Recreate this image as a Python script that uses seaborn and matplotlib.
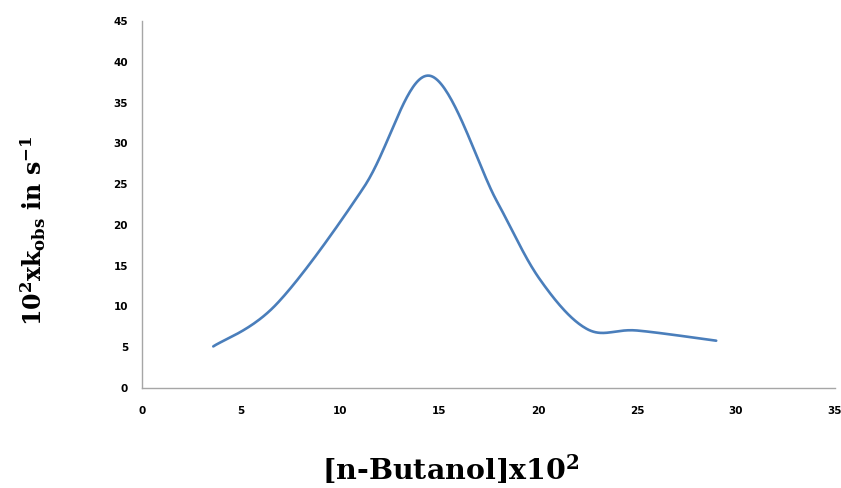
import numpy as np
import pandas as pd
import matplotlib
matplotlib.use("Agg")
import matplotlib.pyplot as plt
import seaborn as sns

# Data
butanol = [3.6, 6.8, 11.2, 14.5, 17.9, 20.1, 22.5, 25.0, 29.0]
kobs = [5.1, 10.3, 24.6, 38.3, 23.0, 13.3, 7.2, 7.05, 5.8]
x_ticks = [0, 5, 10, 15, 20, 25, 30, 35]
y_ticks = [0, 5, 10, 15, 20, 25, 30, 35, 40, 45]


def excel_smooth(xs, ys, n=40):
    """Excel-style smoothed line (Catmull-Rom Bezier) through the data points."""
    P = np.column_stack([xs, ys]).astype(float)
    out = []
    for i in range(len(P) - 1):
        p0 = P[i]
        p3 = P[i + 1]
        prev = P[i - 1] if i > 0 else P[i]
        nxt = P[i + 2] if i + 2 < len(P) else P[i + 1]
        c1 = p0 + (p3 - prev) / 6.0
        c2 = p3 - (nxt - p0) / 6.0
        t = np.linspace(0, 1, n, endpoint=(i == len(P) - 2))[:, None]
        seg = ((1 - t) ** 3) * p0 + 3 * ((1 - t) ** 2) * t * c1 + 3 * (1 - t) * t ** 2 * c2 + t ** 3 * p3
        out.append(seg)
    return np.vstack(out)


curve = excel_smooth(butanol, kobs)
df = pd.DataFrame({"x": curve[:, 0], "y": curve[:, 1]})

sns.set_theme(style="white")
plt.rcParams["font.family"] = ["DejaVu Sans"]
plt.rcParams["mathtext.default"] = "regular"
plt.rcParams["text.color"] = "black"

fig = plt.figure(figsize=(8.41, 4.88), dpi=100)
ax = fig.add_axes([142 / 841, 1 - 388 / 488, (835 - 142) / 841, (388 - 21) / 488])

sns.lineplot(data=df, x="x", y="y", sort=False, ax=ax, color="#4A7EBB", linewidth=1.9)

ax.set_xlim(0, 35)
ax.set_ylim(0, 45)
ax.set_xticks(x_ticks)
ax.set_yticks(y_ticks)
ax.set_xticklabels([str(v) for v in x_ticks], fontsize=7.5, fontweight="bold")
ax.set_yticklabels([str(v) for v in y_ticks], fontsize=7.5, fontweight="bold")

for s in ["top", "right"]:
    ax.spines[s].set_visible(False)
for s in ["left", "bottom"]:
    ax.spines[s].set_color("#A6A6A6")
    ax.spines[s].set_linewidth(1.0)
ax.tick_params(axis="both", which="major", direction="out", length=4, width=1.0,
               color="#A6A6A6", labelcolor="black")
ax.tick_params(axis="y", pad=6)
ax.tick_params(axis="x", pad=9)

ax.set_xlabel("")
ax.set_ylabel("")

fig.text(451 / 841, 1 - 469 / 488, r"[n-Butanol]x10$^{2}$", ha="center", va="center",
         fontsize=20.5, fontweight="bold", family="DejaVu Serif", color="black")
fig.text(33 / 841, 1 - 231 / 488, r"10$^{2}$xk$_{obs}$ in s$^{-1}$", ha="center", va="center",
         rotation=90, fontsize=17, fontweight="bold", family="DejaVu Serif", color="black")

fig.savefig("out.png", dpi=100, facecolor="white")
